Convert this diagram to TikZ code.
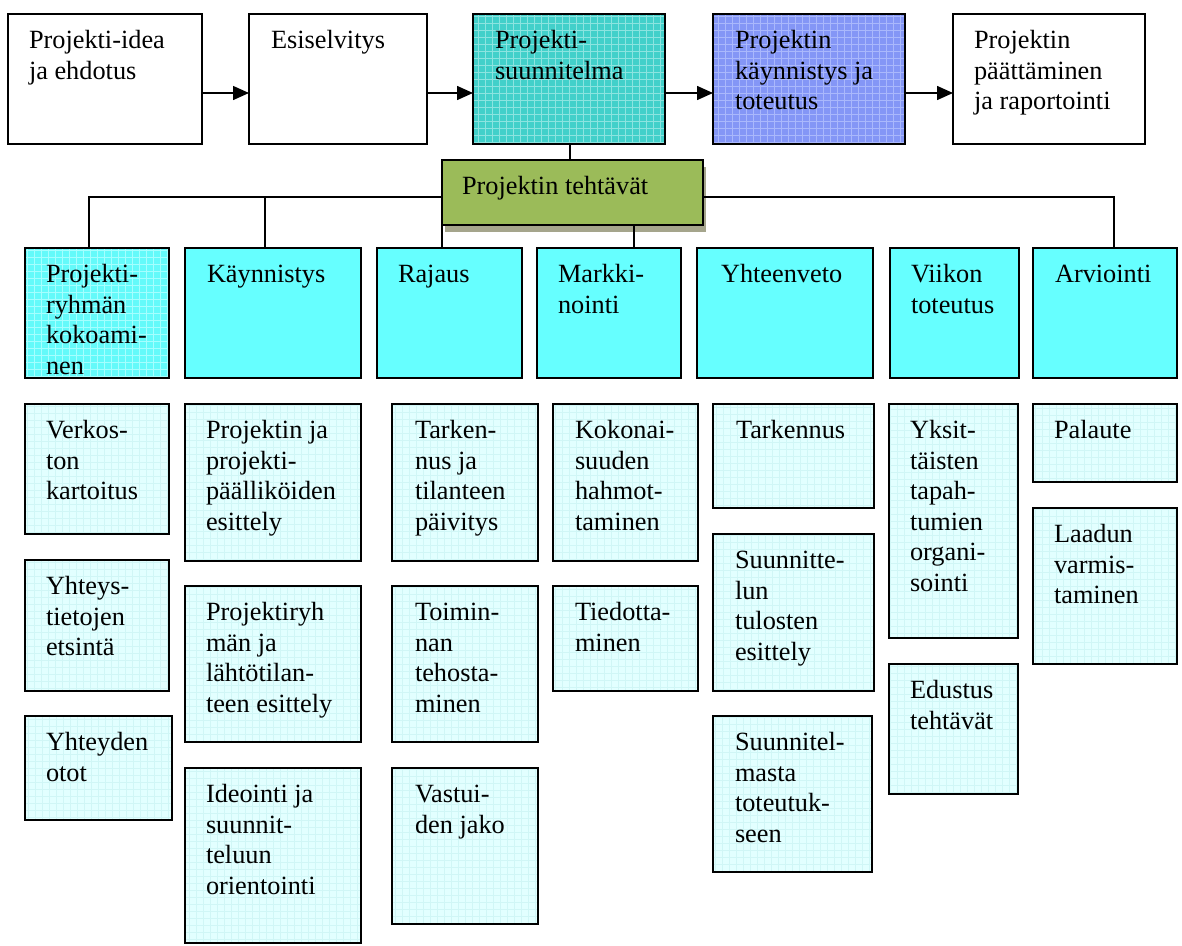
\documentclass[tikz,border=0pt]{standalone}
\usepackage{fontspec}
\setmainfont{Liberation Serif}
\usetikzlibrary{arrows.meta}
\definecolor{tealA}{RGB}{66,208,202}
\definecolor{tealG}{RGB}{140,228,224}
\definecolor{blueA}{RGB}{132,150,246}
\definecolor{blueG}{RGB}{170,184,252}
\definecolor{greenA}{RGB}{155,187,89}
\definecolor{shadowC}{RGB}{165,165,140}
\definecolor{cyanA}{RGB}{102,255,255}
\definecolor{cyanP}{RGB}{100,250,250}
\definecolor{cyanPG}{RGB}{165,255,255}
\definecolor{lightA}{RGB}{226,255,255}
\definecolor{lightG}{RGB}{208,246,246}
\newcommand\tf{\fontsize{26.3}{30.5}\selectfont}
\tikzset{
  x=1pt, y=-1pt,
  boxbase/.style={draw=black, line width=1.8pt, inner sep=0pt, outer sep=0pt},
  plainbox/.style={boxbase, fill=white},
  gridded/.style={path picture={\draw[#1, step=7pt, line width=0.6pt] (path picture bounding box.south west) grid (path picture bounding box.north east);}},
  tealbox/.style={boxbase, fill=tealA, gridded=tealG},
  bluebox/.style={boxbase, fill=blueA, gridded=blueG},
  greenbox/.style={boxbase, fill=greenA},
  cyanbox/.style={boxbase, fill=cyanA},
  cyanpat/.style={boxbase, fill=cyanP, gridded=cyanPG},
  lightbox/.style={boxbase, fill=lightA, gridded=lightG},
  txt/.style={anchor=base west, inner sep=0pt, outer sep=0pt, font=\tf, text=black},
  conn/.style={line width=1.5pt, draw=black},
  arr/.style={conn, -{Triangle[length=16pt,width=14pt]}},
}
\newcommand\mybox[8]{%
  \node[#6, anchor=north west, minimum width={(#4-#2)*1pt}, minimum height={(#5-#3)*1pt}] (#1) at (#2,#3) {};
  \node[txt] (#1t) at (#2+#8,#3+34.5) {\parbox[t]{300pt}{\raggedright #7}};
}
\begin{document}
\begin{tikzpicture}
\useasboundingbox (0,0) rectangle (1182,945);
\fill[white] (0,0) rectangle (1182,945);
% top row
\mybox{b1}{8}{14}{202}{144}{plainbox}{Projekti-idea\\ja ehdotus}{21}
\mybox{b2}{249}{14}{427}{144}{plainbox}{Esiselvitys}{22}
\mybox{b3}{473}{14}{665}{144}{tealbox}{Projekti-\\suunnitelma}{22}
\mybox{b4}{713}{14}{905}{144}{bluebox}{Projektin\\käynnistys ja\\toteutus}{22}
\mybox{b5}{953}{14}{1145}{144}{plainbox}{Projektin\\päättäminen\\ja raportointi}{21}
\coordinate (ay) at (0,93);
\draw[arr] (b1.east |- ay) -- (b2.west |- ay);
\draw[arr] (b2.east |- ay) -- (b3.west |- ay);
\draw[arr] (b3.east |- ay) -- (b4.west |- ay);
\draw[arr] (b4.east |- ay) -- (b5.west |- ay);
% green
\fill[shadowC] (445,167) rectangle (706,232);
\mybox{g}{442}{160}{703}{225}{greenbox}{Projektin tehtävät}{20}
\coordinate (hl) at (0,197);
% row 2
\mybox{c1}{25}{248}{169}{378}{cyanpat}{Projekti-\\ryhmän\\kokoami-\\nen}{21}
\mybox{c2}{185}{248}{361}{378}{cyanbox}{Käynnistys}{22}
\mybox{c3}{377}{248}{522}{378}{cyanbox}{Rajaus}{21}
\mybox{c4}{537}{248}{681}{378}{cyanbox}{Markki-\\nointi}{21}
\mybox{c5}{697}{248}{873}{378}{cyanbox}{Yhteenveto}{24}
\mybox{c6}{890}{248}{1019}{378}{cyanbox}{Viikon\\toteutus}{21}
\mybox{c7}{1033}{248}{1177}{378}{cyanbox}{Arviointi}{22}
% connectors
\coordinate (p1) at (89,248);
\coordinate (p2) at (265,248);
\coordinate (p3) at (442,248);
\coordinate (p4) at (634,248);
\coordinate (p7) at (1114,248);
\draw[conn] (b3.south -| 570,0) -- (g.north -| 570,0);
\draw[conn] (g.west |- hl) -| (p1);
\draw[conn] (p2 |- hl) -- (p2);
\draw[conn] (g.south west) -- (p3);
\draw[conn] (g.south -| p4) -- (p4);
\draw[conn] (g.east |- hl) -| (p7);
% row 3
\mybox{d11}{25}{404}{169}{534}{lightbox}{Verkos-\\ton\\kartoitus}{21}
\mybox{d12}{25}{560}{169}{691}{lightbox}{Yhteys-\\tietojen\\etsintä}{21}
\mybox{d13}{25}{716}{172}{820}{lightbox}{Yhteyden\\otot}{21}
\mybox{d21}{185}{404}{361}{561}{lightbox}{Projektin ja\\projekti-\\päälliköiden\\esittely}{21}
\mybox{d22}{185}{586}{361}{742}{lightbox}{Projektiryh\\män ja\\lähtötilan-\\teen esittely}{21}
\mybox{d23}{185}{768}{361}{943}{lightbox}{Ideointi ja\\suunnit-\\teluun\\orientointi}{21}
\mybox{d31}{392}{404}{538}{561}{lightbox}{Tarken-\\nus ja\\tilanteen\\päivitys}{23}
\mybox{d32}{392}{586}{538}{742}{lightbox}{Toimin-\\nan\\tehosta-\\minen}{23}
\mybox{d33}{392}{768}{538}{924}{lightbox}{Vastui-\\den jako}{23}
\mybox{d41}{553}{404}{698}{561}{lightbox}{Kokonai-\\suuden\\hahmot-\\taminen}{22}
\mybox{d42}{553}{586}{698}{691}{lightbox}{Tiedotta-\\minen}{22}
\mybox{d51}{713}{404}{874}{508}{lightbox}{Tarkennus}{23}
\mybox{d52}{713}{534}{874}{691}{lightbox}{Suunnitte-\\lun\\tulosten\\esittely}{22}
\mybox{d53}{713}{716}{872}{872}{lightbox}{Suunnitel-\\masta\\toteutuk-\\seen}{22}
\mybox{d61}{889}{404}{1018}{638}{lightbox}{Yksit-\\täisten\\tapah-\\tumien\\organi-\\sointi}{21}
\mybox{d62}{889}{664}{1018}{794}{lightbox}{Edustus\\tehtävät}{21}
\mybox{d71}{1033}{404}{1177}{482}{lightbox}{Palaute}{21}
\mybox{d72}{1033}{508}{1177}{664}{lightbox}{Laadun\\varmis-\\taminen}{21}
\end{tikzpicture}
\end{document}
